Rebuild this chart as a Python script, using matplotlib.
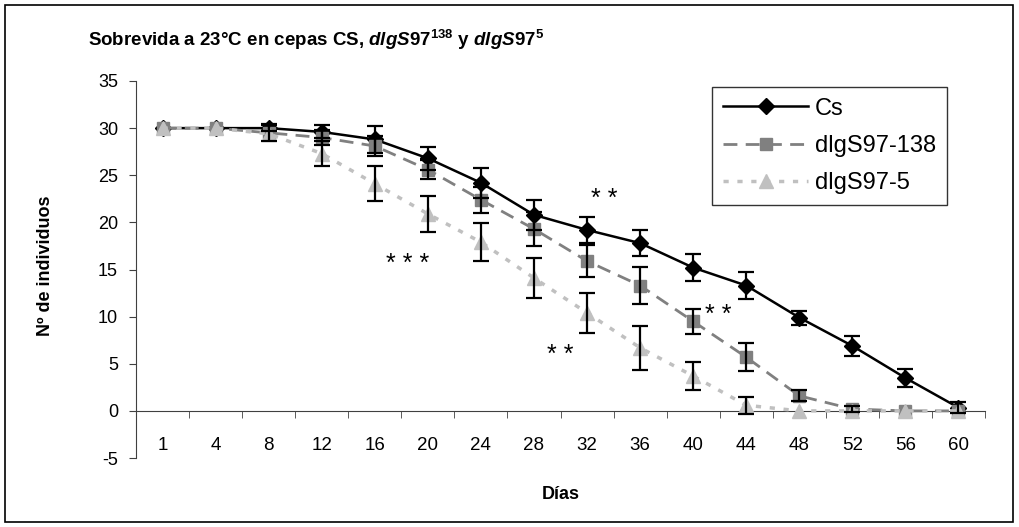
import matplotlib
matplotlib.use("Agg")
import matplotlib.pyplot as plt
from matplotlib.patches import Rectangle
import numpy as np

# Survival counts per strain, day by day
dias = ["1", "4", "8", "12", "16", "20", "24", "28", "32", "36", "40", "44", "48", "52", "56", "60"]

cs = [30, 30, 30, 29.6, 28.8, 26.8, 24.2, 20.8, 19.2, 17.8, 15.2, 13.3, 9.9, 6.9, 3.5, 0.35]
cs_err = [0, 0, 0.3, 0.7, 1.4, 1.2, 1.6, 1.6, 1.4, 1.4, 1.45, 1.4, 0.75, 1.05, 0.95, 0.55]

d138 = [30, 30, 29.5, 29.0, 28.1, 25.6, 22.4, 19.3, 15.9, 13.3, 9.5, 5.7, 1.6, 0.2, 0, 0]
d138_err = [0, 0, 0.9, 0.8, 1.1, 1.0, 1.4, 1.8, 1.7, 2.0, 1.3, 1.5, 0.6, 0.3, 0, 0]

d5 = [30, 30, 29.4, 27.3, 24.1, 20.9, 17.9, 14.1, 10.4, 6.7, 3.7, 0.6, 0, 0, 0, 0]
d5_err = [0, 0, 0, 1.3, 1.85, 1.9, 2.0, 2.1, 2.15, 2.35, 1.45, 0.9, 0, 0, 0, 0]

# significance marks: (x position in category units, y value, text)
marcas = [(4.62, 15.6, "* * *"), (8.33, 22.5, "* *"), (7.5, 5.9, "* *"), (10.47, 10.2, "* *")]

plt.rcParams["font.family"] = ["Liberation Sans", "DejaVu Sans"]
plt.rcParams["axes.unicode_minus"] = False
plt.rcParams["mathtext.fontset"] = "custom"
plt.rcParams["mathtext.it"] = "Liberation Sans:italic:bold"
plt.rcParams["mathtext.rm"] = "Liberation Sans:bold"
plt.rcParams["mathtext.bf"] = "Liberation Sans:bold"

fig = plt.figure(figsize=(10.19, 5.27), dpi=100)
ax = fig.add_axes([0.1335, 0.1309, 0.8331, 0.7154])

x = np.arange(len(dias))

series = [
    ("Cs", cs, cs_err, dict(color="black", ls="-", lw=1.8, marker="D", ms=8,
                            mfc="black", mec="black")),
    ("dlgS97-138", d138, d138_err, dict(color="#808080", ls=(0, (5, 3)), lw=2.0, marker="s", ms=9,
                                        mfc="#808080", mec="#808080")),
    ("dlgS97-5", d5, d5_err, dict(color="#c0c0c0", ls=(0, (1.5, 2.5)), lw=2.5, marker="^", ms=10,
                                  mfc="#c0c0c0", mec="#c0c0c0")),
]

for name, vals, errs, style in series:
    vals = np.array(vals, dtype=float)
    errs = np.array(errs, dtype=float)
    ax.plot(x, vals, label=name, zorder=3, **style)
    m = errs > 0
    ax.errorbar(x[m], vals[m], yerr=errs[m], fmt="none", ecolor="black",
                elinewidth=1.6, capsize=6, capthick=1.6, zorder=4)

for xm, ym, txt in marcas:
    ax.text(xm, ym, txt, ha="center", va="center", fontsize=18, color="black")

ax.set_xlim(-0.5, len(dias) - 0.5)
ax.set_ylim(-5, 35)
ax.set_yticks(range(-5, 36, 5))

# x axis sits on zero, tick marks between categories
ax.spines["top"].set_visible(False)
ax.spines["right"].set_visible(False)
ax.spines["bottom"].set_position(("data", 0))
ax.spines["bottom"].set_color("#404040")
ax.spines["left"].set_color("#404040")
ax.set_xticks(x)
ax.set_xticklabels(dias)
ax.set_xticks(np.arange(-0.5, len(dias), 1), minor=True)
ax.tick_params(axis="x", which="major", length=0, pad=19, labelsize=13.5)
ax.tick_params(axis="x", which="minor", length=5, direction="out", color="#404040")
ax.tick_params(axis="y", length=5, direction="out", labelsize=13, pad=8, color="#404040")

ax.set_xlabel("Días", fontsize=13, fontweight="bold")
ax.xaxis.set_label_coords(0.5, -0.075)
ax.set_ylabel("Nº de individuos", fontsize=13, fontweight="bold")
ax.yaxis.set_label_coords(-0.097, 0.51)

fig.text(0.31, 0.924,
         r"Sobrevida a 23°C en cepas CS, $\mathit{dlgS97}^{\mathit{138}}$ y $\mathit{dlgS97}^{\mathit{5}}$",
         ha="center", va="center", fontsize=13.5, fontweight="bold")

leg = ax.legend(loc="upper left", bbox_to_anchor=(0.679, 0.984), fontsize=17, frameon=True,
                fancybox=False, edgecolor="black", handlelength=3.6, borderpad=0.45,
                labelspacing=0.65, handletextpad=0.3, borderaxespad=0)
leg.get_frame().set_linewidth(1.0)

fig.patches.append(Rectangle((0.005, 0.01), 0.989, 0.98, transform=fig.transFigure,
                             fill=False, edgecolor="black", lw=1.2))

fig.savefig("out.png", dpi=100)
